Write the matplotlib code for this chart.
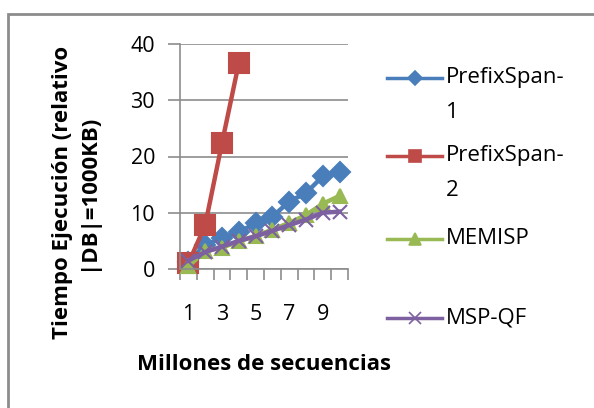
import numpy as np
import matplotlib
matplotlib.use("Agg")
import matplotlib.pyplot as plt
from matplotlib.lines import Line2D

plt.rcParams['font.family'] = ['Open Sans', 'DejaVu Sans']

millones = [1, 2, 3, 4, 5, 6, 7, 8, 9, 10]
prefixspan1 = [1.3, 4.3, 5.5, 6.6, 8.1, 9.3, 12.0, 13.5, 16.5, 17.3]
prefixspan2 = [1.0, 7.8, 22.4, 36.6]
memisp = [0.5, 3.2, 3.8, 4.9, 5.9, 7.0, 8.2, 9.6, 11.6, 13.0]
mspqf = [1.5, 3.0, 4.0, 5.0, 5.8, 6.8, 7.8, 8.8, 10.0, 10.2]
yticks = [0, 10, 20, 30, 40]
xticklabels = ['1', '3', '5', '7', '9']

W, H = 594, 408
fig = plt.figure(figsize=(W / 100, H / 100), dpi=100)

def px(x, y):
    return x / W, 1 - y / H

# borde exterior del grafico (estilo excel)
fig.add_artist(plt.Rectangle(px(8, 420), 600 / W, 406 / H, fill=False,
                             edgecolor='#8c8c8c', linewidth=2, transform=fig.transFigure))

ax = fig.add_axes([180 / W, 1 - 269 / H, 168 / W, 225 / H])

# nombre, datos, color, marcador, tam. en grafico, tam. en leyenda
series = [
    ('PrefixSpan-\n1', prefixspan1, '#4a7ebb', 'D', 10, 7),
    ('PrefixSpan-\n2', prefixspan2, '#be4b48', 's', 14, 8),
    ('MEMISP', memisp, '#98b954', '^', 10, 8),
    ('MSP-QF', mspqf, '#7d60a0', 'x', 10, 8),
]

for nombre, valores, color, marker, ms, ms_ley in series:
    ax.plot(millones[:len(valores)], valores, color=color, lw=3.2, marker=marker,
            ms=ms, mew=1.5, clip_on=False)

ax.set_ylim(0, 40)
ax.set_xlim(0.5, 10.5)
ax.set_yticks(yticks)
ax.set_xticks([1, 3, 5, 7, 9])
ax.set_xticklabels(xticklabels)
ax.set_xticks(np.arange(0.5, 11, 1), minor=True)
ax.tick_params(axis='x', which='major', length=0, pad=25, labelsize=15.5)
ax.tick_params(axis='x', which='minor', length=8, width=1.2, color='#8c8c8c')
ax.tick_params(axis='y', length=9, width=1.2, color='#8c8c8c', pad=9, labelsize=15.5)
ax.grid(axis='y', color='#8c8c8c', lw=1.2)
ax.set_axisbelow(True)
for s in ['top', 'right']:
    ax.spines[s].set_visible(False)
for s in ['left', 'bottom']:
    ax.spines[s].set_color('#8c8c8c')
    ax.spines[s].set_linewidth(1.2)

fig.text(*px(264, 364), 'Millones de secuencias', ha='center', va='center',
         fontsize=16, fontweight='bold')
fig.text(*px(75, 192), 'Tiempo Ejecución (relativo\n|DB|=1000KB)', ha='center',
         va='center', rotation=90, fontsize=16, fontweight='bold', linespacing=1.2)

# leyenda manual
leyenda_y = [78, 156, 239, 318]
for (nombre, valores, color, marker, ms, ms_ley), ly in zip(series, leyenda_y):
    x0, y0 = px(387, ly)
    x1, _ = px(442, ly)
    fig.add_artist(Line2D([x0, x1], [y0, y0], color=color, lw=2.5, transform=fig.transFigure))
    fig.add_artist(Line2D([(x0 + x1) / 2], [y0], color=color, marker=marker, ms=ms_ley,
                          mew=1.2, transform=fig.transFigure))
    lineas = nombre.split('\n')
    for i, t in enumerate(lineas):
        fig.text(*px(446, ly + 34 * i), t, ha='left', va='center', fontsize=16)

fig.savefig('out.png', dpi=100)
